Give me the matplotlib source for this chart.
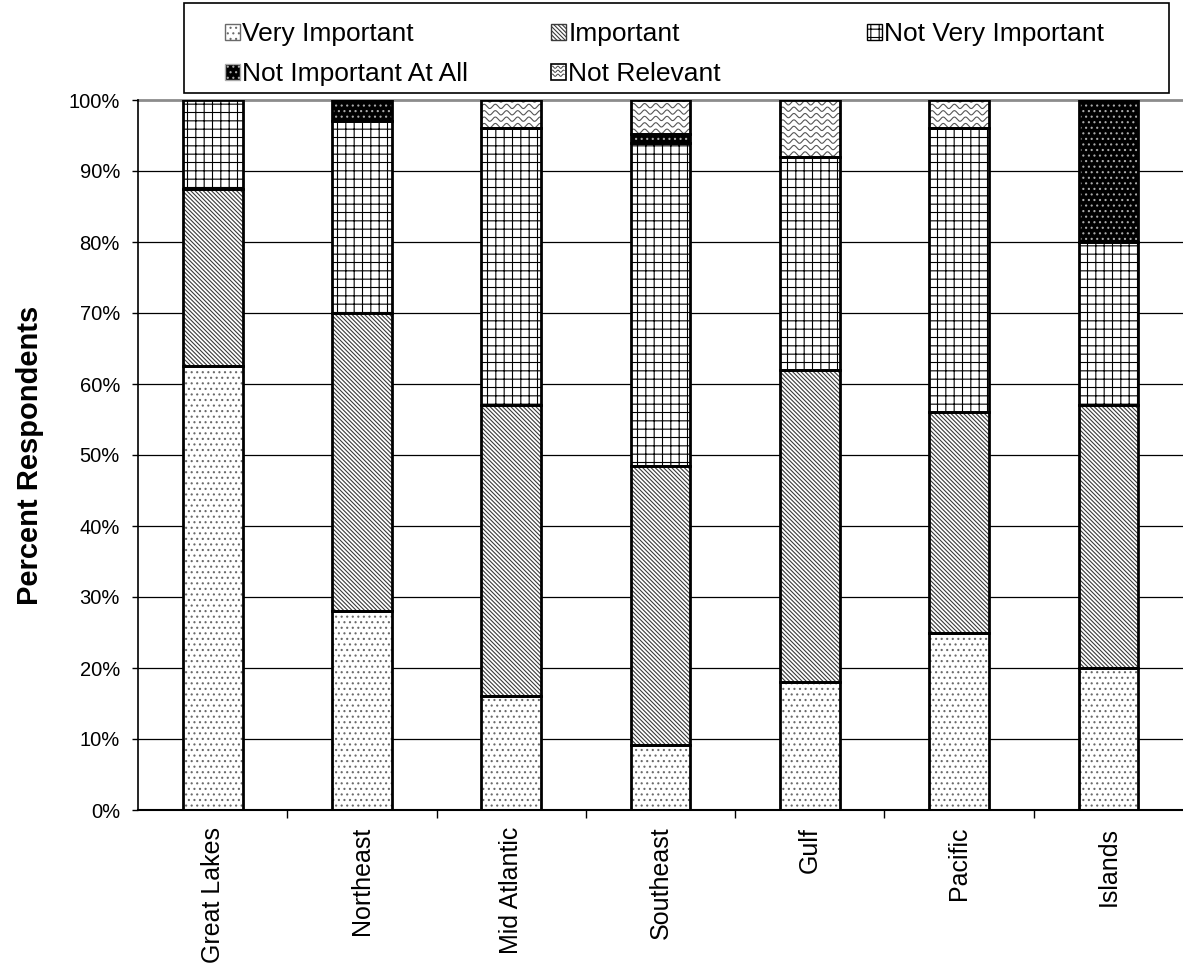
import matplotlib
matplotlib.use("Agg")
import matplotlib.pyplot as plt
import numpy as np
from matplotlib.patches import Patch, Rectangle
from matplotlib.legend_handler import HandlerPatch
from matplotlib.lines import Line2D

plt.rcParams["font.family"] = ["Liberation Sans", "DejaVu Sans"]
plt.rcParams["hatch.linewidth"] = 0.8

regions = ["Great Lakes", "Northeast", "Mid Atlantic", "Southeast", "Gulf", "Pacific", "Islands"]
very_important = [62.5, 28, 16, 9.1, 18, 25, 20]
important = [25, 42, 41, 39.4, 44, 31, 37]
not_very_important = [12.5, 27, 39, 45.5, 30, 40, 23]
not_important_at_all = [0, 3, 0, 1.2, 0, 0, 20]
not_relevant = [0, 0, 4, 4.8, 8, 4, 0]

W, H = 1183, 967
fig = plt.figure(figsize=(W / 100, H / 100), dpi=100)
ax = fig.add_axes([138 / W, 1 - 810 / H, (W - 138) / W, (810 - 100) / H])

x = np.arange(len(regions))
bar_w = 0.4

# face colour, hatch colour, hatch pattern
styles = {
    "Very Important": ("white", "#6a6a6a", "..."),
    "Important": ("white", "#3a3a3a", "\\" * 8),
    "Not Very Important": ("white", "black", "++"),
    "Not Important At All": ("black", "#aaaaaa", "..."),
    "Not Relevant": ("white", None, None),
}
series = [
    ("Very Important", very_important),
    ("Important", important),
    ("Not Very Important", not_very_important),
    ("Not Important At All", not_important_at_all),
    ("Not Relevant", not_relevant),
]


def add_waves(axis, patch, x0, x1, y0, y1):
    # wavy texture, clipped to the segment rectangle
    xs = np.linspace(x0, x1, 300)
    for yk in np.arange(y0 - 0.5, y1 + 0.9, 0.9):
        ys = yk + 0.3 * np.sin(2 * np.pi * (xs - x0) / 0.075)
        ln = Line2D(xs, ys, color="#555555", lw=0.8, zorder=3)
        axis.add_line(ln)
        ln.set_clip_path(patch)


bottom = np.zeros(len(regions))
for name, vals in series:
    vals = np.array(vals, dtype=float)
    face, hcol, hatch = styles[name]
    for i in range(len(regions)):
        if vals[i] <= 0:
            continue
        if hatch:
            ax.bar(x[i], vals[i], bar_w, bottom=bottom[i], color=face,
                   edgecolor=hcol, hatch=hatch, linewidth=0, zorder=2)
        else:
            ax.bar(x[i], vals[i], bar_w, bottom=bottom[i], color=face,
                   linewidth=0, zorder=2)
        outline = ax.bar(x[i], vals[i], bar_w, bottom=bottom[i], fill=False,
                         edgecolor="black", linewidth=2.0, zorder=4)[0]
        if name == "Not Relevant":
            add_waves(ax, outline, x[i] - bar_w / 2, x[i] + bar_w / 2,
                      bottom[i], bottom[i] + vals[i])
    bottom += vals

ax.set_xlim(-0.5, len(regions) - 0.5)
ax.set_ylim(0, 100)
ax.set_yticks(range(0, 101, 10))
ax.set_yticklabels([f"{v}%" for v in range(0, 101, 10)], fontsize=14.5)
ax.set_xticks(x)
ax.set_xticklabels(regions, rotation=90, fontsize=18, va="top")
ax.set_xticks(np.arange(0.5, len(regions) - 0.5, 1), minor=True)
ax.tick_params(axis="x", which="major", length=0, pad=12)
ax.tick_params(axis="x", which="minor", length=6, width=1)
ax.tick_params(axis="y", length=4.5, width=1, pad=8.5)

for v in range(10, 100, 10):
    ax.axhline(v, color="black", lw=0.9, zorder=1)
ax.axhline(100, color="#8c8c8c", lw=2, zorder=1, clip_on=False)

ax.spines["top"].set_visible(False)
ax.spines["right"].set_visible(False)
ax.spines["left"].set_linewidth(1.2)
ax.spines["bottom"].set_linewidth(1.5)

ax.set_ylabel("Percent Respondents", fontsize=21, fontweight="bold", labelpad=18)


class WaveHandler(HandlerPatch):
    def create_artists(self, legend, orig_handle, xdescent, ydescent,
                       width, height, fontsize, trans):
        rect = Rectangle((-xdescent, -ydescent), width, height,
                         facecolor="white", edgecolor="black", lw=1.2,
                         transform=trans)
        arts = [rect]
        xs = np.linspace(-xdescent + 1, -xdescent + width - 1, 30)
        for k in (0.3, 0.55, 0.8):
            ys = -ydescent + k * height + 0.8 * np.sin(2 * np.pi * xs / 4)
            arts.append(Line2D(xs, ys, color="#444444", lw=0.7, transform=trans))
        return arts


def legend_patch(name):
    face, hcol, hatch = styles[name]
    if hatch:
        return Patch(facecolor=face, edgecolor=hcol, hatch=hatch, label=name)
    return Patch(facecolor=face, edgecolor="black", label=name)


legend_cols = [
    (225, ["Very Important", "Not Important At All"]),
    (551, ["Important", "Not Relevant"]),
    (867, ["Not Very Important"]),
]
for xpix, names in legend_cols:
    handles = [legend_patch(n) for n in names]
    hmap = {handles[-1]: WaveHandler()} if "Not Relevant" in names else {}
    fig.legend(handles=handles, loc="upper left",
               bbox_to_anchor=(xpix / W, 1 - 22 / H),
               frameon=False, fontsize=19, borderpad=0, borderaxespad=0,
               handlelength=0.55, handleheight=0.55, handletextpad=0.1,
               labelspacing=0.62, handler_map=hmap)

fig.add_artist(Rectangle((184 / W, 1 - 93 / H), (1169 - 184) / W, (93 - 3) / H,
                         transform=fig.transFigure, fill=False,
                         edgecolor="black", lw=1.2))

fig.savefig("out.png", dpi=100)
